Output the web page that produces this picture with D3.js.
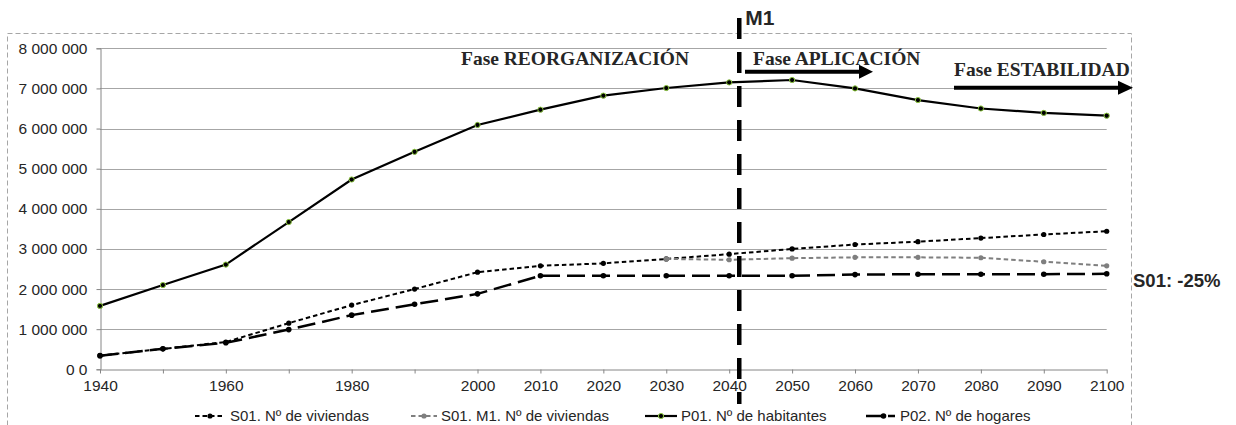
<!DOCTYPE html>
<html><head><meta charset="utf-8">
<script src="https://cdn.jsdelivr.net/npm/d3@7"></script>
<style>
body{margin:0;background:#fff;}
svg{display:block;}
</style></head>
<body>
<svg id="chart" width="1236" height="425"></svg>
<script>
const years = [1940,1950,1960,1970,1980,1990,2000,2010,2020,2030,2040,2050,2060,2070,2080,2090,2100];
const xTickLabels = [1940,1960,1980,2000,2010,2020,2030,2040,2050,2060,2070,2080,2090,2100];
const yTicks = [0,1000000,2000000,3000000,4000000,5000000,6000000,7000000,8000000];
const yTickLabels = ["0 0","1 000 000","2 000 000","3 000 000","4 000 000","5 000 000","6 000 000","7 000 000","8 000 000"];
const s01Viviendas = [340000,510000,680000,1150000,1600000,2000000,2420000,2580000,2640000,2750000,2870000,3000000,3110000,3180000,3270000,3360000,3440000];
const s01M1Viviendas = [null,null,null,null,null,null,null,null,null,2750000,2730000,2770000,2790000,2790000,2780000,2680000,2580000];
const p01Habitantes = [1580000,2100000,2610000,3670000,4730000,5420000,6090000,6470000,6820000,7010000,7150000,7210000,7000000,6710000,6500000,6390000,6320000];
const p02Hogares = [340000,510000,660000,990000,1350000,1620000,1880000,2330000,2330000,2330000,2330000,2330000,2360000,2370000,2370000,2370000,2380000];
const seriesNames = ["S01. Nº de viviendas","S01. M1. Nº de viviendas","P01. Nº de habitantes","P02. Nº de hogares"];
const m1Year = 2041.6;
const phaseLabels = ["Fase REORGANIZACIÓN","Fase APLICACIÓN","Fase ESTABILIDAD"];
const sideLabel = "S01: -25%";

const svg = d3.select("#chart");
const x = d3.scaleLinear().domain([1940,2100]).range([100,1106.7]);
const y = d3.scaleLinear().domain([0,8000000]).range([369.3,48.3]);
const sans = "Liberation Sans, Arial, sans-serif";

// outer dashed border
svg.append("rect").attr("x",7.5).attr("y",33.5).attr("width",1124).attr("height",420)
  .attr("fill","none").attr("stroke","#a6a6a6").attr("stroke-dasharray","5,3");

// gridlines
svg.append("g").selectAll("line").data(yTicks.slice(1)).join("line")
  .attr("x1",x(1940)).attr("x2",x(2100)).attr("y1",d=>Math.round(y(d))+0.5).attr("y2",d=>Math.round(y(d))+0.5)
  .attr("stroke","#a6a6a6").attr("stroke-width",1);

// y axis
const yAxis = d3.axisLeft(y).tickValues(yTicks).tickSize(4).tickPadding(9)
  .tickFormat((d,i)=>yTickLabels[i]);
const gy = svg.append("g").attr("transform","translate(100.5,0)").call(yAxis);
gy.select(".domain").attr("stroke","#868686");
gy.selectAll(".tick line").attr("stroke","#868686");
gy.selectAll("text").attr("font-family",sans).attr("font-size",15.5).attr("fill","#262626");

// x axis
const xAxis = d3.axisBottom(x).tickValues(years).tickSize(4).tickPadding(6).tickSizeOuter(0)
  .tickFormat(d=>xTickLabels.includes(d)?String(d):"");
const gx = svg.append("g").attr("transform",`translate(0,${Math.round(y(0))+0.5})`).call(xAxis);
gx.select(".domain").attr("stroke","#868686");
gx.selectAll(".tick line").attr("stroke","#868686");
gx.selectAll("text").attr("font-family",sans).attr("font-size",15.5).attr("fill","#262626");

const line = d3.line().defined(d=>d[1]!=null).x(d=>x(d[0])).y(d=>y(d[1]));
const styles = [
  {data:s01Viviendas, stroke:"#000", width:2, dash:"4.5,3", dot:"#000", dotStroke:"none", r:2.6},
  {data:s01M1Viviendas, stroke:"#7f7f7f", width:2, dash:"4.5,3", dot:"#7f7f7f", dotStroke:"none", r:2.6},
  {data:p01Habitantes, stroke:"#000", width:2.2, dash:null, dot:"#000", dotStroke:"#8cc63f", r:2.6},
  {data:p02Hogares, stroke:"#000", width:2.5, dash:"18,7", dot:"#000", dotStroke:"none", r:2.8}
];
styles.forEach(s=>{
  const pts = years.map((yr,i)=>[yr,s.data[i]]);
  svg.append("path").datum(pts).attr("d",line).attr("fill","none")
    .attr("stroke",s.stroke).attr("stroke-width",s.width).attr("stroke-dasharray",s.dash);
  svg.append("g").selectAll("circle").data(pts.filter(p=>p[1]!=null)).join("circle")
    .attr("cx",p=>x(p[0])).attr("cy",p=>y(p[1])).attr("r",s.r)
    .attr("fill",s.dot).attr("stroke",s.dotStroke).attr("stroke-width",1);
});

// M1 vertical line
svg.append("line").attr("x1",x(m1Year)).attr("x2",x(m1Year)).attr("y1",18).attr("y2",404)
  .attr("stroke","#000").attr("stroke-width",4.5).attr("stroke-dasharray","21,13");
svg.append("text").attr("x",x(m1Year)+6).attr("y",25).text("M1")
  .attr("font-family",sans).attr("font-weight","bold").attr("font-size",21).attr("fill","#262626");

// phase labels
const phaseFont = "Liberation Serif, Times New Roman, serif";
svg.append("text").attr("x",461).attr("y",65).text(phaseLabels[0])
  .attr("font-family",phaseFont).attr("font-weight","bold").attr("font-size",19.5).attr("fill","#262626");
svg.append("text").attr("x",753).attr("y",65).text(phaseLabels[1])
  .attr("font-family",phaseFont).attr("font-weight","bold").attr("font-size",19.5).attr("fill","#262626");
svg.append("text").attr("x",954).attr("y",76).text(phaseLabels[2])
  .attr("font-family",phaseFont).attr("font-weight","bold").attr("font-size",19.5).attr("fill","#262626");

function arrow(x1,x2,yy,headLen,headHalf){
  svg.append("line").attr("x1",x1).attr("x2",x2-headLen+1).attr("y1",yy).attr("y2",yy)
    .attr("stroke","#000").attr("stroke-width",4);
  svg.append("path").attr("d",`M${x2-headLen},${yy-headHalf}L${x2},${yy}L${x2-headLen},${yy+headHalf}Z`).attr("fill","#000");
}
arrow(745,873,71.7,14,7);
arrow(954,1133,87.7,15,7);

// side label
svg.append("text").attr("x",1133).attr("y",287).text(sideLabel)
  .attr("font-family",sans).attr("font-weight","bold").attr("font-size",18.5).attr("fill","#262626");

// legend
const legendPos = [{x1:195,x2:225,tx:230},{x1:411,x2:437,tx:441},{x1:645,x2:677,tx:681},{x1:866,x2:895,tx:900}];
const legY = 416;
styles.forEach((s,i)=>{
  const p = legendPos[i];
  svg.append("line").attr("x1",p.x1).attr("x2",p.x2).attr("y1",legY).attr("y2",legY)
    .attr("stroke",s.stroke).attr("stroke-width",s.width).attr("stroke-dasharray",i===3?"18,4":s.dash);
  svg.append("circle").attr("cx",(p.x1+p.x2)/2+(i===3?3:0)).attr("cy",legY).attr("r",s.r)
    .attr("fill",s.dot).attr("stroke",s.dotStroke).attr("stroke-width",1);
  svg.append("text").attr("x",p.tx).attr("y",legY+5).text(seriesNames[i])
    .attr("font-family",sans).attr("font-size",15).attr("fill","#262626");
});
</script>
</body></html>
